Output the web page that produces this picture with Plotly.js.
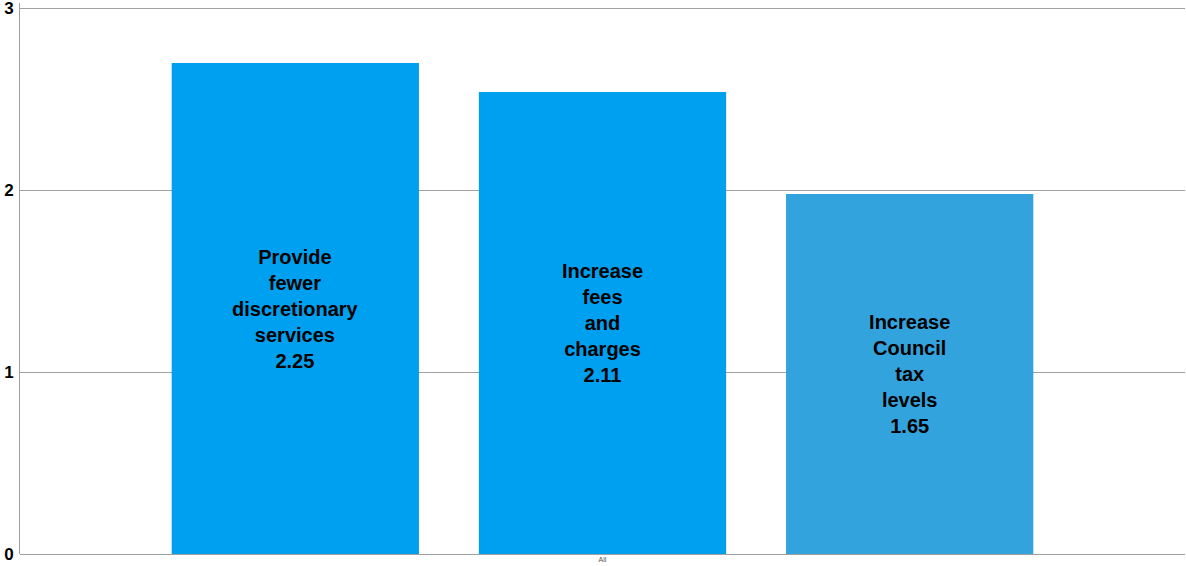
<!DOCTYPE html>
<html>
<head>
<meta charset="utf-8">
<script src="https://cdn.plot.ly/plotly-3.0.1.min.js"></script>
<style>html,body{margin:0;padding:0;background:#fff;}#chart{width:1186px;height:566px;}</style>
</head>
<body>
<div id="chart"></div>
<script>
const categories = ["All"];
const seriesNames = ["Provide<br>fewer<br>discretionary<br>services", "Increase<br>fees<br>and<br>charges", "Increase<br>Council<br>tax<br>levels"];
const barHeights = [2.70, 2.54, 1.98];
const labelValues = ["2.25", "2.11", "1.65"];
const barColors = ["#00A0F0", "#00A0F0", "#33A3DD"];
const yTicks = [0, 1, 2, 3];

const traces = seriesNames.map((name, i) => ({
  type: "bar",
  x: categories,
  y: [barHeights[i]],
  name: name,
  marker: {color: barColors[i]},
  text: [name + "<br>" + labelValues[i]],
  texttemplate: "%{text}",
  textposition: "inside",
  insidetextanchor: "middle",
  textangle: 0,
  constraintext: "none",
  insidetextfont: {family: "Liberation Sans, Arial, sans-serif", size: 20, color: "#000", weight: "bold"},
  hoverinfo: "none"
}));

const layout = {
  width: 1186, height: 566,
  margin: {l: 20, r: 1, t: 3, b: 12},
  paper_bgcolor: "#fff", plot_bgcolor: "#fff",
  showlegend: false,
  barmode: "group",
  bargap: 0.209,
  bargroupgap: 0.195,
  font: {family: "Liberation Sans, Arial, sans-serif"},
  xaxis: {
    type: "category",
    tickfont: {size: 7, color: "#555"},
    ticks: "", showgrid: false, showline: false, zeroline: false,
    ticklabelstandoff: 0
  },
  yaxis: {
    range: [0, 3.03],
    tickvals: yTicks,
    ticktext: yTicks.map(String),
    tickfont: {size: 17, color: "#000", weight: "bold"},
    ticklabeloverflow: "allow",
    showgrid: true, gridcolor: "#a0a0a0", gridwidth: 1,
    zeroline: true, zerolinecolor: "#a0a0a0", zerolinewidth: 1,
    showline: true, linecolor: "#a0a0a0", linewidth: 1,
    ticks: "", ticklabelstandoff: 2
  }
};

Plotly.newPlot("chart", traces, layout, {displayModeBar: false, staticPlot: true});
</script>
</body>
</html>
